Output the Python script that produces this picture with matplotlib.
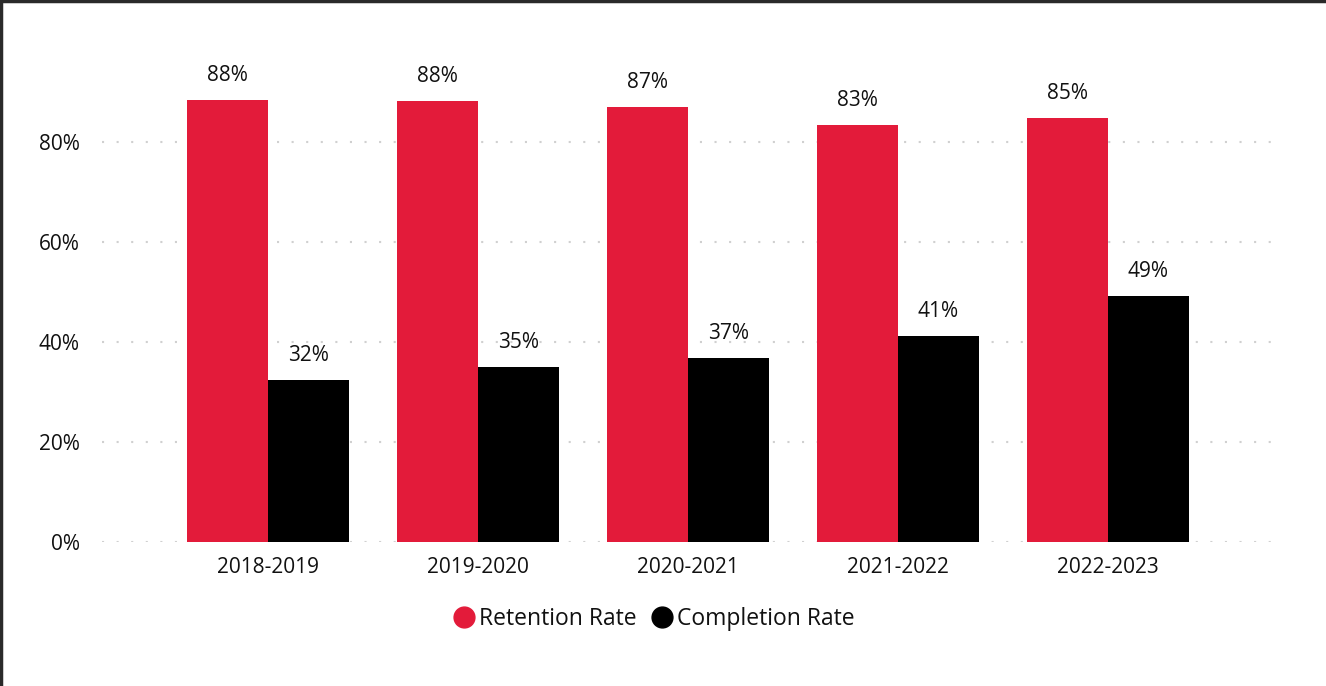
import numpy as np
import matplotlib.pyplot as plt
from matplotlib.lines import Line2D
from matplotlib.ticker import PercentFormatter

plt.rcParams['font.family'] = ['Open Sans', 'DejaVu Sans']

years = ['2018-2019', '2019-2020', '2020-2021', '2021-2022', '2022-2023']
retention = [88.4, 88.2, 87.0, 83.4, 84.8]
completion = [32.4, 35.0, 36.8, 41.2, 49.2]
retention_color = '#E31B3A'
completion_color = '#000000'
text_color = '#111111'

fig = plt.figure(figsize=(13.26, 6.86), dpi=100)
ax = fig.add_axes([0.0769, 0.2099, 0.8869, 0.656])

x = np.arange(len(years))
w = 0.386
b1 = ax.bar(x - w / 2, retention, w, color=retention_color, label='Retention Rate')
b2 = ax.bar(x + w / 2, completion, w, color=completion_color, label='Completion Rate')

for bars, vals in [(b1, retention), (b2, completion)]:
    for rect, v in zip(bars, vals):
        ax.annotate(f'{v:.0f}%', (rect.get_x() + rect.get_width() / 2, v),
                    xytext=(0, 10), textcoords='offset points',
                    ha='center', va='bottom', fontsize=15, color=text_color)

ax.set_xlim(-0.79, 4.81)
ax.set_ylim(0, 90)
ax.set_yticks([0, 20, 40, 60, 80])
ax.yaxis.set_major_formatter(PercentFormatter(decimals=0))
ax.set_xticks(x)
ax.set_xticklabels(years)
ax.tick_params(axis='both', length=0, labelsize=15, labelcolor=text_color)
ax.tick_params(axis='y', pad=16)
ax.tick_params(axis='x', pad=11)
ax.grid(axis='y', color='#d0d0d0', linestyle=(0, (1, 6)), linewidth=1.5)
ax.set_axisbelow(True)
for s in ax.spines.values():
    s.set_visible(False)

handles = [Line2D([], [], marker='o', linestyle='', markersize=15, color=retention_color),
           Line2D([], [], marker='o', linestyle='', markersize=15, color=completion_color)]
fig.legend(handles, ['Retention Rate', 'Completion Rate'], loc='center',
           bbox_to_anchor=(0.493, 0.097), ncol=2, frameon=False, fontsize=16.5,
           labelcolor=text_color, handletextpad=0.15, columnspacing=0.6, handlelength=1.0)

# frame edge along top and left
fig.add_artist(Line2D([0, 1], [0.9985, 0.9985], color='#2a2a2a', linewidth=2.5, transform=fig.transFigure))
fig.add_artist(Line2D([0.001, 0.001], [0, 1], color='#2a2a2a', linewidth=2.5, transform=fig.transFigure))

fig.savefig('out.png', dpi=100, facecolor='white')
